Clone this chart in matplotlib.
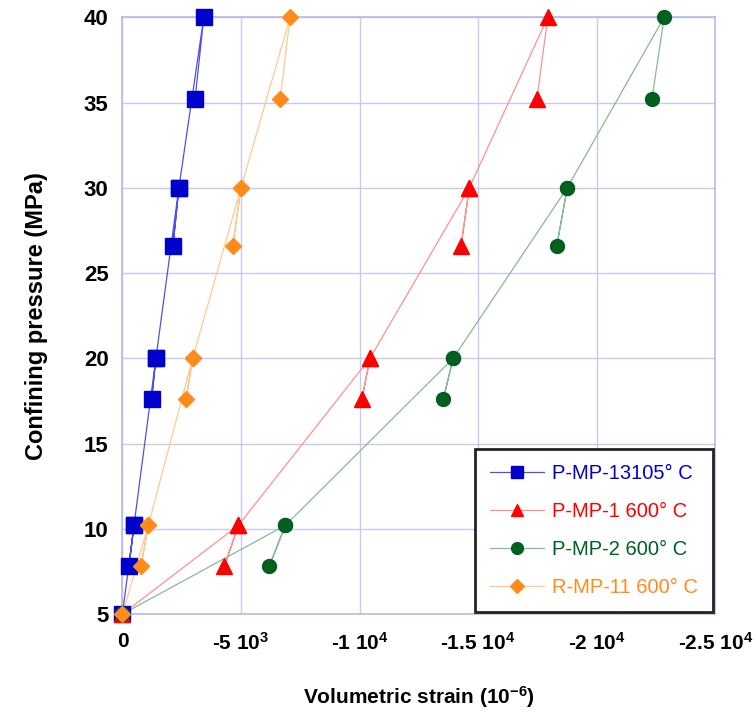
import matplotlib.pyplot as plt
from matplotlib.ticker import FixedLocator

# loading path with unload/reload stubs at each step
pressure = [5, 10.2, 7.8, 10.2, 20, 17.6, 20, 30, 26.6, 30, 40, 35.2]

strain_pmp13105 = [0, -485, -274, -485, -1410, -1230, -1410, -2380, -2130, -2380, -3430, -3060]
strain_pmp1 = [0, -4890, -4300, -4890, -10440, -10100, -10440, -14630, -14280, -14630, -17940, -17480]
strain_pmp2 = [0, -6870, -6190, -6870, -13950, -13530, -13950, -18760, -18320, -18760, -22850, -22330]
strain_rmp11 = [0, -1090, -780, -1090, -2960, -2680, -2960, -5000, -4650, -5000, -7070, -6650]

labels = ['P-MP-13105\u00b0 C', 'P-MP-1 600\u00b0 C', 'P-MP-2 600\u00b0 C', 'R-MP-11 600\u00b0 C']
x_ticks = [0, -5000, -10000, -15000, -20000, -25000]
x_ticklabels = ['0', '-5 10$^3$', '-1 10$^4$', '-1.5 10$^4$', '-2 10$^4$', '-2.5 10$^4$']
y_ticks = [5, 10, 15, 20, 25, 30, 35, 40]

plt.rcParams['font.family'] = ['Liberation Sans', 'DejaVu Sans']
plt.rcParams['mathtext.fontset'] = 'custom'
plt.rcParams['mathtext.rm'] = 'Liberation Sans:bold'
plt.rcParams['mathtext.it'] = 'Liberation Sans:bold'

fig = plt.figure(figsize=(7.56, 7.19), dpi=100)
ax = fig.add_axes([0.162, 0.146, 0.784, 0.830])

series = [
    (strain_pmp13105, '#0000cc', '#5050e0', 's', 11),
    (strain_pmp1, '#ff0000', '#ff9090', '^', 11),
    (strain_pmp2, '#006020', '#8ab898', 'o', 10),
    (strain_rmp11, '#ff8c1a', '#ffc890', 'D', 8.5),
]

handles = []
for (xs, mc, lc, mk, ms), lab in zip(series, labels):
    ax.plot(xs, pressure, color=lc, lw=0.9, zorder=2)
    ax.plot(xs, pressure, ls='none', marker=mk, ms=ms, color=mc, zorder=3, clip_on=False)
    h, = ax.plot([], [], color=lc, lw=0.9, marker=mk, ms=ms * 0.85,
                 markerfacecolor=mc, markeredgecolor=mc, label=lab)
    handles.append(h)

ax.set_xlim(0, -25000)
ax.set_ylim(5, 40)
ax.xaxis.set_major_locator(FixedLocator(x_ticks))
ax.set_xticklabels(x_ticklabels)
ax.set_yticks(y_ticks)

grid_c = '#c8c8f0'
ax.grid(True, color=grid_c, lw=1)
ax.set_axisbelow(True)
for s in ax.spines.values():
    s.set_color('#b8b8ec')
    s.set_linewidth(1.2)
ax.tick_params(axis='x', length=0, pad=13, labelsize=15)
ax.tick_params(axis='y', length=0, pad=10, labelsize=16)
for t in ax.get_xticklabels():
    t.set_fontweight('bold')
for t in ax.get_yticklabels():
    t.set_fontweight('bold')

ax.set_xlabel('Volumetric strain (10$^{-6}$)', fontsize=15, fontweight='bold', labelpad=22)
ax.set_ylabel('Confining pressure (MPa)', fontsize=17, fontweight='bold', labelpad=26)

leg = ax.legend(handles=handles, loc='lower right', bbox_to_anchor=(0.997, 0.003),
                fontsize=14.5, frameon=True, fancybox=False, shadow=False,
                borderpad=0.75, labelspacing=0.95, handlelength=2.7,
                handletextpad=0.4, borderaxespad=0.0)
fr = leg.get_frame()
fr.set_edgecolor('#222222')
fr.set_linewidth(2.0)
fr.set_facecolor('white')
fr.set_alpha(1)
for txt, (xs, mc, lc, mk, ms) in zip(leg.get_texts(), series):
    txt.set_color(mc)

fig.savefig('out.png', dpi=100)
